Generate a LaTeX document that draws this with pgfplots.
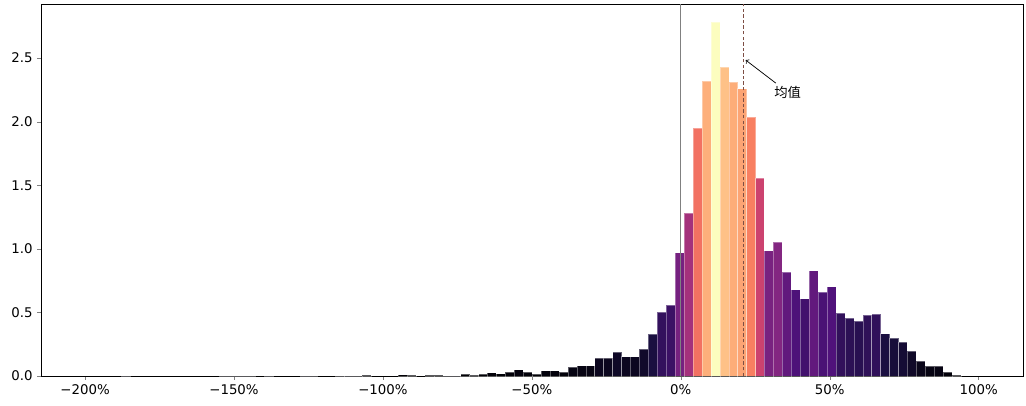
\documentclass[border=0pt]{standalone}
\usepackage{pgfplots}
\pgfplotsset{compat=1.18}
\usepackage{pgfplotstable}
\usepackage{fontspec}
\setmainfont{DejaVu Sans}
\newfontfamily\cjk{Noto Sans CJK SC}

% histogram: bin centre (percent), density
\pgfplotstableread{
x y
-186.4 0.003
-153.4 0.002
-150.4 0.003
-147.4 0.003
-144.4 0.002
-138.4 0.003
-126.4 0.003
-123.4 0.003
-114.4 0.002
-111.4 0.003
-108.4 0.002
-105.4 0.005
-93.4 0.010
-90.4 0.008
-84.4 0.008
-81.4 0.008
-78.4 0.003
-75.4 0.003
-72.4 0.013
-69.4 0.008
-66.4 0.013
-63.4 0.026
-60.4 0.018
-57.4 0.028
-54.4 0.050
-51.4 0.031
-48.4 0.017
-45.4 0.042
-42.4 0.042
-39.4 0.031
-36.4 0.068
-33.4 0.081
-30.4 0.081
-27.4 0.139
-24.4 0.139
-21.4 0.189
-18.4 0.152
-15.4 0.152
-12.4 0.210
-9.4 0.328
-6.4 0.503
-3.4 0.558
-0.4 0.970
2.6 1.280
5.6 1.950
8.6 2.320
11.6 2.780
14.6 2.430
17.6 2.310
20.6 2.260
23.6 2.036
26.6 1.557
29.6 0.985
32.6 1.055
35.6 0.818
38.6 0.680
41.6 0.608
44.6 0.828
47.6 0.658
50.6 0.702
53.6 0.495
56.6 0.458
59.6 0.432
62.6 0.477
65.6 0.485
68.6 0.333
71.6 0.296
74.6 0.265
77.6 0.194
80.6 0.120
83.6 0.076
86.6 0.076
89.6 0.031
92.6 0.004
}\hist

\pgfplotsset{
  colormap={magma}{rgb255=(0,0,4) rgb255=(28,16,68) rgb255=(79,18,123)
    rgb255=(129,37,129) rgb255=(181,54,122) rgb255=(229,80,100)
    rgb255=(251,135,97) rgb255=(254,194,135) rgb255=(252,253,191)},
}

% axis box 736.5pt x 279pt, x range 329.7, y range 2.925
\def\barhalf{3.351pt}   % 1.5 percent
\def\yunit{95.385pt}    % one density unit
\pgfdeclareplotmark{histbar}{%
  \pgfpathrectanglecorners{\pgfpoint{-\barhalf}{0pt}}{\pgfpoint{\barhalf}{-\hy*\yunit}}%
  \pgfusepathqfillstroke}

\begin{document}
\begin{tikzpicture}
\useasboundingbox (-30.75pt,-21.75pt) rectangle (738.75pt,282pt);
\begin{axis}[
    clip marker paths=true,
    scale only axis,
    width=736.5pt, height=279pt,
    xmin=-214.8, xmax=114.9,
    ymin=0, ymax=2.925,
    font=\fontsize{10}{12}\selectfont,
    tick pos=left,
    tick align=outside,
    major tick length=2.8pt,
    axis line style={line width=0.6pt},
    xtick={-200,-150,-100,-50,0,50,100},
    xticklabels={−200\%,−150\%,−100\%,−50\%,0\%,50\%,100\%},
    ytick={0,0.5,1,1.5,2,2.5},
    /pgf/number format/assume math mode=true,
    yticklabel style={/pgf/number format/.cd, fixed, fixed zerofill, precision=1},
    colormap name=magma,
]
\addplot[scatter, only marks, mark=histbar,
  point meta=y, point meta min=0, point meta max=2.78,
  visualization depends on={rawy \as \hy},
  scatter/use mapped color={draw=white, draw opacity=0.35, fill=mapped color},
  mark options={line width=0.35pt}] table[x=x, y=y] {\hist};

\addplot[gray, line width=0.7pt] coordinates {(0,0) (0,2.925)};
\addplot[color={rgb,255:red,125;green,78;blue,68},
  line width=1.2pt, dash pattern=on 2.6pt off 1.6pt]
  coordinates {(21.1,0) (21.1,2.925)};

\draw[->, line width=0.55pt] (axis cs:31.9,2.303) -- (axis cs:21.8,2.484);
\node[font=\cjk\fontsize{10}{12}\selectfont] at (axis cs:35.9,2.233) {均值};
\end{axis}
\end{tikzpicture}
\end{document}
